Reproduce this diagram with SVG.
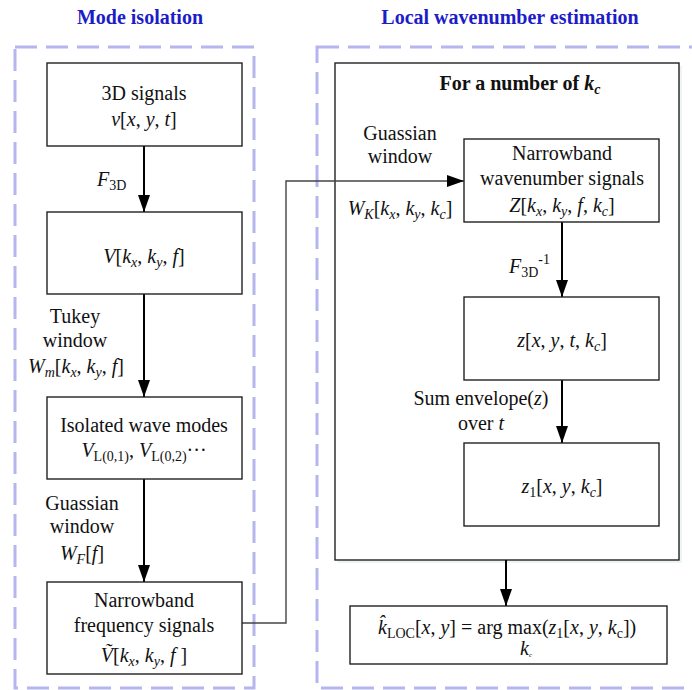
<svg xmlns="http://www.w3.org/2000/svg" width="692" height="690" viewBox="0 0 692 690">
<style>
.t{font-family:"Liberation Serif","Times New Roman",serif;font-size:20px;fill:#111}
.i{font-style:italic}
.s{font-size:14px}
.title{font-weight:bold;fill:#1c1cc8}
.bold{font-weight:bold}
.node{fill:#fff;stroke:#222;stroke-width:1.4}
.dash{fill:none;stroke:#b6b6ee;stroke-width:3;stroke-dasharray:22 9}
.ar{fill:none;stroke:#000;stroke-width:2;marker-end:url(#ah)}
.ln{fill:none;stroke:#444;stroke-width:1.4;marker-end:url(#ah)}
</style>
<defs>
<marker id="ah" markerUnits="userSpaceOnUse" markerWidth="17" markerHeight="12" refX="17" refY="6" orient="auto">
<path d="M0,0 L17,6 L0,12 Z" fill="#000"/>
</marker>
</defs>
<rect width="692" height="690" fill="#fff"/>

<g id="panels">
<rect class="dash" x="15" y="47" width="239" height="641"/>
<rect class="dash" x="317" y="47" width="390" height="641"/>
<text class="t title" x="140" y="24" text-anchor="middle">Mode isolation</text>
<text class="t title" x="510" y="24" text-anchor="middle">Local wavenumber estimation</text>
</g>

<g id="loop">
<rect x="338" y="66" width="344" height="497" fill="#eef3f3"/>
<rect class="node" x="335" y="63" width="344" height="497"/>
<text class="t bold" x="520" y="90" text-anchor="middle">For a number of <tspan class="i">k</tspan><tspan class="s i" dy="4">c</tspan></text>
</g>

<g id="connectors">
<line class="ar" x1="144" y1="146" x2="144" y2="212"/>
<line class="ar" x1="144" y1="294" x2="144" y2="397"/>
<line class="ar" x1="144" y1="479" x2="144" y2="582"/>
<polyline class="ln" points="242,623 286,623 286,181 464,181"/>
<line class="ar" x1="562" y1="222" x2="562" y2="297"/>
<line class="ar" x1="562" y1="380" x2="562" y2="443"/>
<line class="ar" x1="506" y1="560" x2="506" y2="606"/>
</g>

<g id="labels">
<text class="t" x="97" y="186"><tspan class="i">F</tspan><tspan class="s" dy="4">3D</tspan></text>
<text class="t" x="75" y="323" text-anchor="middle">Tukey</text>
<text class="t" x="75" y="347" text-anchor="middle">window</text>
<text class="t" x="76" y="373" text-anchor="middle"><tspan class="i">W</tspan><tspan class="s i" dy="4">m</tspan><tspan dy="-4">[</tspan><tspan class="i">k</tspan><tspan class="s i" dy="4">x</tspan><tspan dy="-4">, </tspan><tspan class="i">k</tspan><tspan class="s i" dy="4">y</tspan><tspan dy="-4">, </tspan><tspan class="i">f</tspan>]</text>
<text class="t" x="82" y="510" text-anchor="middle">Guassian</text>
<text class="t" x="82" y="533" text-anchor="middle">window</text>
<text class="t" x="82" y="560" text-anchor="middle"><tspan class="i">W</tspan><tspan class="s i" dy="4">F</tspan><tspan dy="-4">[</tspan><tspan class="i">f</tspan>]</text>
<text class="t" x="400" y="140" text-anchor="middle">Guassian</text>
<text class="t" x="400" y="163" text-anchor="middle">window</text>
<text class="t" x="400" y="215" text-anchor="middle"><tspan class="i">W</tspan><tspan class="s i" dy="4">K</tspan><tspan dy="-4">[</tspan><tspan class="i">k</tspan><tspan class="s i" dy="4">x</tspan><tspan dy="-4">, </tspan><tspan class="i">k</tspan><tspan class="s i" dy="4">y</tspan><tspan dy="-4">, </tspan><tspan class="i">k</tspan><tspan class="s i" dy="4">c</tspan><tspan dy="-4">]</tspan></text>
<text class="t" x="509" y="273"><tspan class="i">F</tspan><tspan class="s" dy="4">3D</tspan><tspan class="s" dy="-13">-1</tspan></text>
<text class="t" x="481" y="405" text-anchor="middle">Sum envelope(<tspan class="i">z</tspan>)</text>
<text class="t" x="481" y="430" text-anchor="middle">over <tspan class="i">t</tspan></text>
</g>

<g id="n1">
<rect class="node" x="47" y="63" width="195" height="83"/>
<text class="t" x="144" y="100" text-anchor="middle">3D signals</text>
<text class="t" x="144" y="126" text-anchor="middle"><tspan class="i">v</tspan>[<tspan class="i">x</tspan>, <tspan class="i">y</tspan>, <tspan class="i">t</tspan>]</text>
</g>
<g id="n2">
<rect class="node" x="47" y="212" width="195" height="82"/>
<text class="t" x="144" y="263" text-anchor="middle"><tspan class="i">V</tspan>[<tspan class="i">k</tspan><tspan class="s i" dy="4">x</tspan><tspan dy="-4">, </tspan><tspan class="i">k</tspan><tspan class="s i" dy="4">y</tspan><tspan dy="-4">, </tspan><tspan class="i">f</tspan>]</text>
</g>
<g id="n3">
<rect class="node" x="47" y="397" width="195" height="82"/>
<text class="t" x="144" y="432" text-anchor="middle">Isolated wave modes</text>
<text class="t" x="144" y="457" text-anchor="middle"><tspan class="i">V</tspan><tspan class="s" dy="4">L(0,1)</tspan><tspan dy="-4">, </tspan><tspan class="i">V</tspan><tspan class="s" dy="4">L(0,2)</tspan><tspan dy="-4">···</tspan></text>
</g>
<g id="n4">
<rect class="node" x="47" y="582" width="195" height="92"/>
<text class="t" x="144" y="607" text-anchor="middle">Narrowband</text>
<text class="t" x="144" y="632" text-anchor="middle">frequency signals</text>
<text class="t" x="144" y="662" text-anchor="middle"><tspan class="i">Ṽ</tspan>[<tspan class="i">k</tspan><tspan class="s i" dy="4">x</tspan><tspan dy="-4">, </tspan><tspan class="i">k</tspan><tspan class="s i" dy="4">y</tspan><tspan dy="-4">, </tspan><tspan class="i">f</tspan> ]</text>
</g>
<g id="n5">
<rect class="node" x="464" y="139" width="195" height="83"/>
<text class="t" x="562" y="160" text-anchor="middle">Narrowband</text>
<text class="t" x="562" y="185" text-anchor="middle">wavenumber signals</text>
<text class="t" x="562" y="212" text-anchor="middle"><tspan class="i">Z</tspan>[<tspan class="i">k</tspan><tspan class="s i" dy="4">x</tspan><tspan dy="-4">, </tspan><tspan class="i">k</tspan><tspan class="s i" dy="4">y</tspan><tspan dy="-4">, </tspan><tspan class="i">f</tspan>, <tspan class="i">k</tspan><tspan class="s i" dy="4">c</tspan><tspan dy="-4">]</tspan></text>
</g>
<g id="n6">
<rect class="node" x="464" y="297" width="195" height="83"/>
<text class="t" x="562" y="347" text-anchor="middle"><tspan class="i">z</tspan>[<tspan class="i">x</tspan>, <tspan class="i">y</tspan>, <tspan class="i">t</tspan>, <tspan class="i">k</tspan><tspan class="s i" dy="4">c</tspan><tspan dy="-4">]</tspan></text>
</g>
<g id="n7">
<rect class="node" x="464" y="443" width="195" height="83"/>
<text class="t" x="562" y="493" text-anchor="middle"><tspan class="i">z</tspan><tspan class="s" dy="4">1</tspan><tspan dy="-4">[</tspan><tspan class="i">x</tspan>, <tspan class="i">y</tspan>, <tspan class="i">k</tspan><tspan class="s i" dy="4">c</tspan><tspan dy="-4">]</tspan></text>
</g>
<g id="n8">
<rect class="node" x="350" y="606" width="317" height="58"/>
<text class="t" x="378" y="634"><tspan class="i">k̂</tspan><tspan class="s" dy="4">LOC</tspan><tspan dy="-4">[</tspan><tspan class="i">x</tspan>, <tspan class="i">y</tspan>] = arg max(<tspan class="i">z</tspan><tspan class="s" dy="4">1</tspan><tspan dy="-4">[</tspan><tspan class="i">x</tspan>, <tspan class="i">y</tspan>, <tspan class="i">k</tspan><tspan class="s" dy="4">c</tspan><tspan dy="-4">])</tspan></text>
<text class="t i" x="526" y="655" text-anchor="middle" font-size="10">k<tspan font-size="7" dy="2">c</tspan></text>
</g>
</svg>
